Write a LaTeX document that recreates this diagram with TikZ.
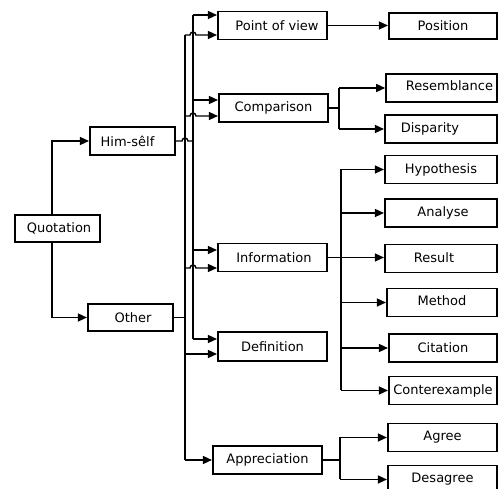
\documentclass[tikz,border=0pt]{standalone}
\usepackage{fontspec}
\setmainfont{DejaVu Sans}
\usetikzlibrary{arrows.meta}
\begin{document}
\begin{tikzpicture}[x=1pt,y=-1pt,
  box/.style={draw, line width=1.6pt, inner sep=0pt, font=\fontsize{13}{15}\selectfont},
  bw/.style={minimum width=85.5pt, minimum height=27.5pt},
  mw/.style={minimum width=109.5pt, minimum height=28pt},
  rw/.style={minimum width=111pt, minimum height=28pt},
  conn/.style={line width=1.4pt},
  arr/.style={line width=1.4pt, -{Triangle[length=9pt,width=8pt]}}]
\useasboundingbox (0,0) rectangle (499,489);
% left column
\node[box,bw] (quo) at (57.5,228.5) {\hspace*{3pt}Quotation};
\node[box,bw,minimum height=28.5pt] (him) at (132.5,141) {Him-sêlf\hspace*{10pt}};
\node[box,bw] (oth) at (130.5,317.5) {\hspace*{5pt}Other};
% middle column
\node[box,mw] (pv) at (272.5,25.5) {\hspace*{9pt}Point of view};
\node[box,mw,minimum height=28.5pt] (cmp) at (273.5,108) {Comparison};
\node[box,mw] (inf) at (272.5,257.5) {\hspace*{3pt}Information};
\node[box,mw,minimum height=29.5pt] (def) at (272.5,346.5) {Definition};
\node[box,mw,minimum height=28.5pt] (app) at (267.5,460) {Appreciation};
% right column
\node[box,rw,minimum width=108.5pt,minimum height=26.5pt] (pos) at (443,26) {Position};
\node[box,rw,minimum height=28.5pt] (res) at (441.5,88) {\hspace*{16pt}\raisebox{4pt}{Resemblance}};
\node[box,rw,minimum width=112.5pt,minimum height=28.5pt] (dis) at (441,129) {Disparity\hspace*{22pt}};
\node[box,rw,minimum width=112.5pt] (hyp) at (441,169.5) {Hypothesis};
\node[box,rw,minimum width=112.5pt,minimum height=28.5pt] (ana) at (441,213) {\hspace*{4pt}Analyse};
\node[box,rw,minimum width=112.5pt] (rsl) at (441,258.5) {\raisebox{2pt}{Result}\hspace*{14pt}};
\node[box,rw,minimum width=110.5pt] (met) at (442,302.5) {\raisebox{3pt}{Method}};
\node[box,rw,minimum width=108.5pt,minimum height=28.5pt] (cit) at (443,348) {Citation};
\node[box,rw,minimum width=108.5pt] (cex) at (443,390.5) {Conterexample};
\node[box,rw,minimum width=109.5pt] (agr) at (442.5,437.5) {Agree};
\node[box,rw,minimum width=109.5pt] (des) at (442.5,479.5) {\raisebox{1pt}{Desagree}};
% trunk coordinates
\coordinate (ht) at (193,0);
\coordinate (ot) at (185,0);
\coordinate (cb) at (339,0);
\coordinate (ib) at (341,0);
\coordinate (ab) at (340,0);
% Quotation
\draw[arr] ([xshift=-5.5pt]quo.north) |- (him.west);
\draw[arr] ([xshift=-5.5pt]quo.south) |- (oth.west);
% Him-self trunk
\draw[conn] (him.east) -- ([xshift=-3pt]ot |- him.east) arc[start angle=180,end angle=0,radius=3pt] -- (ht |- him.east);
\draw[conn] (193,15) -- (193,339);
\draw[arr] (193,15) -- ([yshift=10.5pt]pv.west);
\draw[arr] (193,100) -- ([yshift=8pt]cmp.west);
\draw[arr] (193,250) -- ([yshift=7.5pt]inf.west);
\draw[arr] (193,339) -- ([yshift=7.5pt]def.west);
% Other trunk
\draw[conn] (oth.east) -- (ot |- oth.east);
\draw[conn] (185,35) -- (185,460);
\draw[arr] (185,35) -- (190,35) arc[start angle=180,end angle=0,radius=3pt] -- ([yshift=-9.5pt]pv.west);
\draw[arr] (185,116) -- (190,116) arc[start angle=180,end angle=0,radius=3pt] -- ([yshift=-8pt]cmp.west);
\draw[arr] (185,268) -- (190,268) arc[start angle=180,end angle=0,radius=3pt] -- ([yshift=-10.5pt]inf.west);
\draw[arr] (185,354) -- ([yshift=-7.5pt]def.west);
\draw[arr] (185,460) -- (app.west);
% Point of view
\draw[arr] (pv.east) -- (pos.west |- pv.east);
% Comparison
\draw[conn] (cmp.east) -- (cb |- cmp.east);
\draw[arr] (cb |- res.west) -- (res.west);
\draw[arr] (cb |- dis.west) -- (dis.west);
\draw[conn] (cb |- res.west) -- (cb |- dis.west);
% Information
\draw[arr] (inf.east) -- (rsl.west |- inf.east);
\draw[conn] (ib |- hyp.west) -- (ib |- cex.west);
\draw[arr] (ib |- hyp.west) -- (hyp.west);
\draw[arr] (ib |- ana.west) -- (ana.west);
\draw[arr] (ib |- met.west) -- (met.west);
\draw[arr] (ib |- cit.west) -- (cit.west);
\draw[arr] (ib |- cex.west) -- (cex.west);
% Appreciation
\draw[conn] (app.east) -- (ab |- app.east);
\draw[conn] (ab |- agr.west) -- (ab |- des.west);
\draw[arr] (ab |- agr.west) -- (agr.west);
\draw[arr] (ab |- des.west) -- (des.west);
\end{tikzpicture}
\end{document}
